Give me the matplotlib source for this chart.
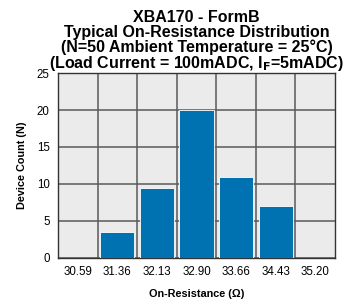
import matplotlib.pyplot as plt
import numpy as np

plt.rcParams['font.family'] = ['Liberation Sans', 'DejaVu Sans']

categorias = ['30.59', '31.36', '32.13', '32.90', '33.66', '34.43', '35.20']
conteo = [0, 3.5, 9.4, 20, 10.9, 7, 0]

titulo = ('XBA170 - FormB\n'
          'Typical On-Resistance Distribution\n'
          '(N=50 Ambient Temperature = 25\u00b0C)\n'
          '(Load Current = 100mADC, I$_\\mathbf{F}$=5mADC)')

fig = plt.figure(figsize=(3.49, 3.07), dpi=100)
ax = fig.add_axes([0.166, 0.16, 0.794, 0.602])
ax.set_facecolor('#ebebeb')

x = np.arange(len(categorias))
ax.bar(x, conteo, width=0.86, color='#0072b2', edgecolor='white', linewidth=0.6, zorder=3)

ax.set_xlim(-0.5, len(categorias) - 0.5)
ax.set_ylim(0, 25)
ax.set_yticks([0, 5, 10, 15, 20, 25])
ax.set_xticks(x)
ax.set_xticklabels(categorias)
ax.set_xticks(x[:-1] + 0.5, minor=True)
ax.tick_params(axis='both', which='both', length=0, labelsize=8.3, pad=6)
ax.grid(True, which='minor', axis='x', color='#5a5a5a', linewidth=1.1, zorder=1)
ax.grid(True, which='major', axis='y', color='#5a5a5a', linewidth=1.1, zorder=1)
for s in ax.spines.values():
    s.set_color('#333333')
    s.set_linewidth(1)

ax.set_xlabel('On-Resistance (\u03a9)', fontsize=7.8, fontweight='bold', labelpad=8)
ax.set_ylabel('Device Count (N)', fontsize=7.8, fontweight='bold', labelpad=7)
ax.set_title(titulo, fontsize=11.5, fontweight='bold', linespacing=0.95, pad=3)

fig.savefig('out.png', dpi=100)
